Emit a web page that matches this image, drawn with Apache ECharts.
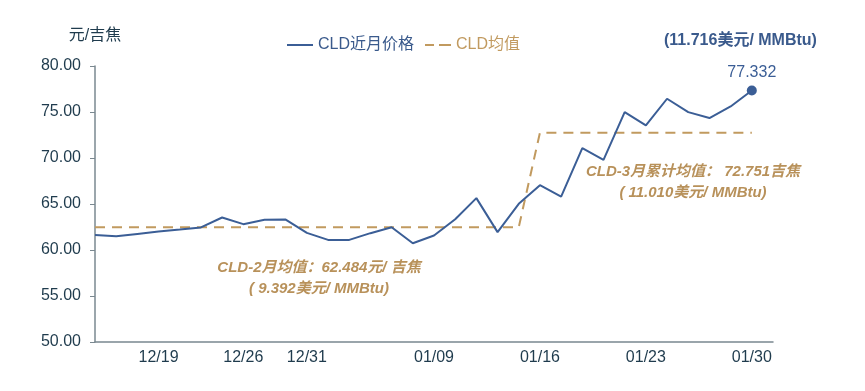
<!DOCTYPE html>
<html>
<head>
<meta charset="utf-8">
<script src="https://cdn.jsdelivr.net/npm/echarts@6/dist/echarts.min.js"></script>
<style>html,body{margin:0;padding:0;background:#fff;}#c{width:865px;height:391px;}</style>
</head>
<body>
<div id="c"></div>
<script>
const categories = ['12/16','12/17','12/18','12/19','12/20','12/23','12/24','12/26','12/27','12/30','12/31',
  '01/02','01/03','01/06','01/07','01/08','01/09','01/10','01/13','01/14','01/15','01/16','01/17',
  '01/20','01/21','01/22','01/23','01/24','01/27','01/28','01/29','01/30'];
const priceValues = [61.64,61.50,61.75,62.00,62.22,62.45,63.53,62.81,63.28,63.31,61.86,
  61.10,61.10,61.83,62.48,60.74,61.57,63.35,65.64,61.94,65.02,67.05,65.81,
  71.08,69.80,74.99,73.54,76.44,74.99,74.34,75.60,77.332];
const avgValues = [62.484,62.484,62.484,62.484,62.484,62.484,62.484,62.484,62.484,62.484,62.484,
  62.484,62.484,62.484,62.484,62.484,62.484,62.484,62.484,62.484,62.484,72.751,72.751,
  72.751,72.751,72.751,72.751,72.751,72.751,72.751,72.751,72.751];
const tickLabels = ['12/19','12/26','12/31','01/09','01/16','01/23','01/30'];
const seriesNames = ['CLD近月价格','CLD均值'];
const yTicks = {min:50, max:80, interval:5};

const blue = '#3b5e96', gold = '#c19a5f', goldText = '#b8915a', axisText = '#1f3b4d';
const font = '"Liberation Sans", Arial, "Noto Sans CJK SC", sans-serif';

const priceData = priceValues.map((v, i) => i === priceValues.length - 1
  ? {value: v, symbol: 'circle', symbolSize: 10,
     label: {show: true, position: 'top', distance: 5, color: blue, fontSize: 16, fontFamily: font,
             formatter: p => p.value.toFixed(3)}}
  : v);

const chart = echarts.init(document.getElementById('c'), null, {renderer: 'canvas'});
chart.setOption({
  animation: false,
  textStyle: {fontFamily: font},
  grid: {left: 95, right: 92, top: 66, bottom: 49, containLabel: false},
  legend: {
    left: 282, top: 32, itemWidth: 26, itemHeight: 2, itemGap: 11,
    textStyle: {fontSize: 16, fontFamily: font},
    data: [
      {name: seriesNames[0], icon: 'path://M0,0h26v2h-26z', itemStyle: {color: blue}, textStyle: {color: '#3a5a8c'}},
      {name: seriesNames[1], icon: 'path://M0,0h9v2h-9z M14,0h12v2h-12z', itemStyle: {color: gold}, textStyle: {color: gold}}
    ]
  },
  xAxis: {
    type: 'category', boundaryGap: false,
    data: categories.concat(['']),
    axisLine: {lineStyle: {color: '#7a8890', width: 1.5}},
    axisTick: {show: false},
    axisLabel: {interval: (i, v) => tickLabels.includes(v), color: axisText, fontSize: 16, margin: 8, fontFamily: font},
    splitLine: {show: false}
  },
  yAxis: {
    type: 'value', min: yTicks.min, max: yTicks.max, interval: yTicks.interval,
    name: '元/吉焦', nameLocation: 'end', nameGap: 22,
    nameTextStyle: {color: axisText, fontSize: 16, align: 'center', fontFamily: font},
    axisLine: {show: true, lineStyle: {color: '#7a8890', width: 1.5}},
    axisTick: {show: true, length: 5, lineStyle: {color: '#7a8890'}},
    axisLabel: {formatter: v => v.toFixed(2), color: axisText, fontSize: 16, margin: 14, fontFamily: font},
    splitLine: {show: false}
  },
  series: [
    {name: seriesNames[0], type: 'line', data: priceData, symbol: 'none', showSymbol: true,
     lineStyle: {color: blue, width: 2}, itemStyle: {color: blue}, z: 3},
    {name: seriesNames[1], type: 'line', data: avgValues, symbol: 'none',
     lineStyle: {color: gold, width: 2, type: [10, 7]}, itemStyle: {color: gold}, z: 2}
  ],
  graphic: [
    {type: 'text', left: 664, top: 33, style: {text: '(11.716美元/ MMBtu)', fill: '#3a5a8c', font: 'bold 16px ' + font}},
    {type: 'text', x: 319, y: 268, style: {text: 'CLD-2月均值：62.484元/ 吉焦', fill: goldText, font: 'italic bold 15px ' + font, align: 'center', verticalAlign: 'middle'}},
    {type: 'text', x: 319, y: 289, style: {text: '( 9.392美元/ MMBtu)', fill: goldText, font: 'italic bold 15px ' + font, align: 'center', verticalAlign: 'middle'}},
    {type: 'text', x: 693, y: 172, style: {text: 'CLD-3月累计均值： 72.751吉焦', fill: goldText, font: 'italic bold 15px ' + font, align: 'center', verticalAlign: 'middle'}},
    {type: 'text', x: 693, y: 193, style: {text: '( 11.010美元/ MMBtu)', fill: goldText, font: 'italic bold 15px ' + font, align: 'center', verticalAlign: 'middle'}}
  ]
});
</script>
</body>
</html>
